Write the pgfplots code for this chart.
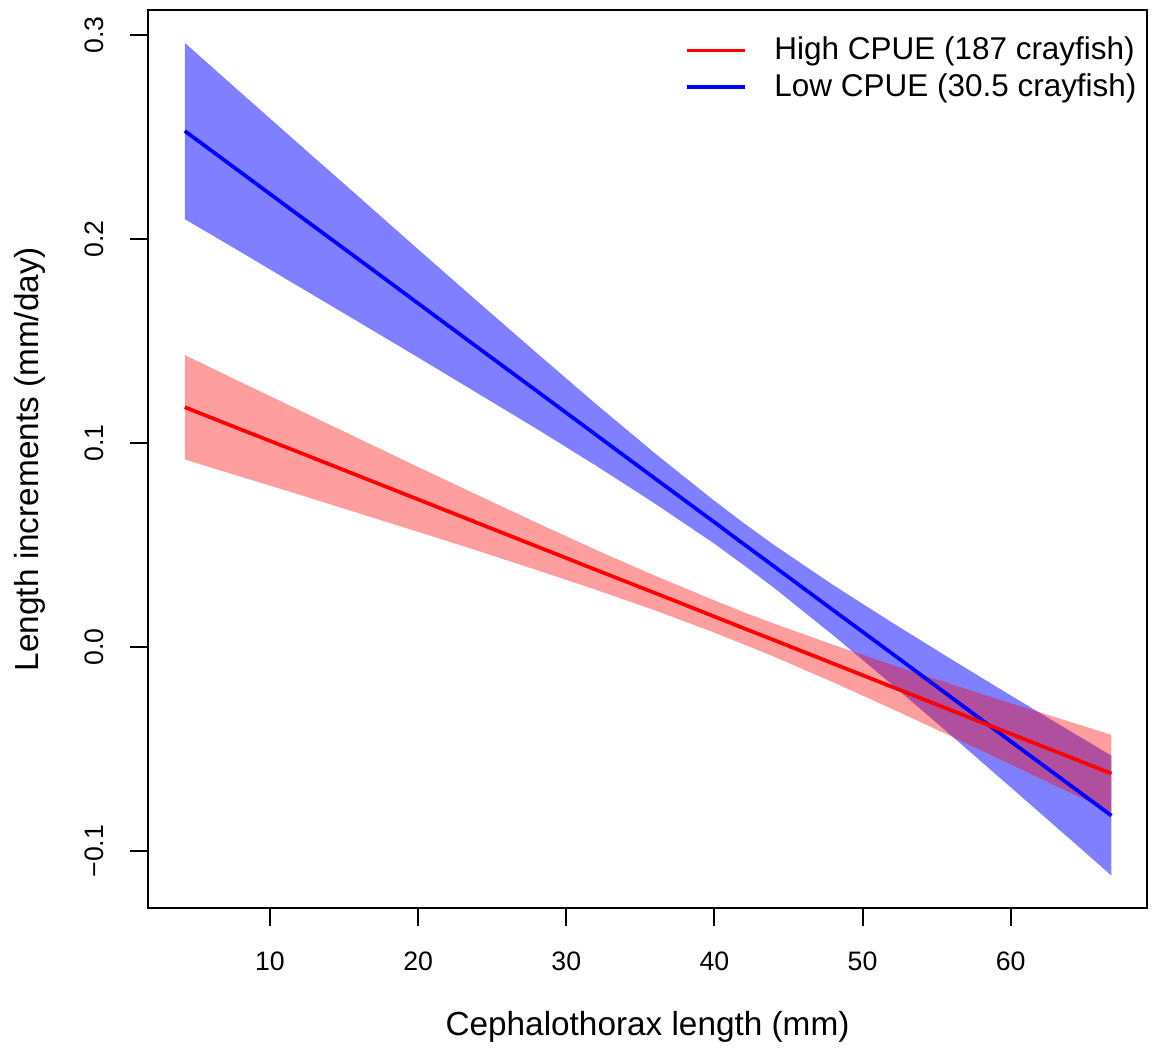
\documentclass[border=0pt]{standalone}
\usepackage{fontspec}
\setmainfont{Liberation Sans}
\usepackage{pgfplots}
\usepackage{pgfplotstable}
\pgfplotsset{compat=1.18}
\usepgfplotslibrary{fillbetween}

\pgfplotstableread{
x     bu      bc      bl      ru      rc      rl
4.25  0.2962  0.2530  0.2098  0.1432  0.1176  0.0920
8     0.2720  0.2329  0.1938  0.1300  0.1068  0.0836
12    0.2463  0.2114  0.1765  0.1161  0.0954  0.0747
16    0.2207  0.1900  0.1593  0.1022  0.0839  0.0656
20    0.1950  0.1685  0.1420  0.0883  0.0724  0.0565
24    0.1695  0.1470  0.1245  0.0746  0.0609  0.0473
28    0.1442  0.1256  0.1070  0.0610  0.0494  0.0378
32    0.1192  0.1041  0.0890  0.0477  0.0379  0.0281
36    0.0949  0.0826  0.0703  0.0350  0.0265  0.0180
40    0.0717  0.0612  0.0507  0.0229  0.0150  0.0071
42    0.0607  0.0504  0.0401  0.0171  0.0092  0.0013
44    0.0502  0.0397  0.0292  0.0116  0.0035  -0.0046
48    0.0305  0.0182  0.0059  0.0012  -0.0080 -0.0172
52    0.0120  -0.0032 -0.0184 -0.0087 -0.0195 -0.0303
56    -0.0060 -0.0247 -0.0434 -0.0182 -0.0310 -0.0438
60    -0.0237 -0.0462 -0.0687 -0.0275 -0.0425 -0.0575
64    -0.0411 -0.0676 -0.0941 -0.0366 -0.0539 -0.0713
66.8  -0.0532 -0.0826 -0.1120 -0.0430 -0.0620 -0.0810
}\data

\begin{document}
\begin{tikzpicture}
\begin{axis}[
  at={(0,0)}, anchor=south west,
  scale only axis, width=374.6pt, height=336.75pt,
  xmin=1.77, xmax=69.2, ymin=-0.1279, ymax=0.3123,
  xtick={10,20,30,40,50,60}, xticklabels={10,20,30,40,50,60},
  ytick={-0.1,0,0.1,0.2,0.3}, yticklabels={−0.1,0.0,0.1,0.2,0.3},
  tick align=outside, tick pos=left, major tick length=6.6pt,
  axis line style={line width=0.75pt},
  every tick/.style={black, line width=0.75pt},
  ticklabel style={font=\fontsize{10}{12}\selectfont},
  xticklabel shift=6.2pt, yticklabel shift=6.3pt,
  yticklabel style={rotate=90, anchor=south},
  xlabel={Cephalothorax length (mm)},
  ylabel={Length increments (mm/day)},
  label style={font=\fontsize{12.5}{15}\selectfont},
  xlabel style={at={(axis description cs:0.5,-0.1324)}, anchor=center},
  ylabel style={at={(axis description cs:-0.1181,0.5)}, anchor=center},
  legend style={at={(axis description cs:1,1)}, anchor=north east,
    xshift=-3.75pt, yshift=-10pt, draw=none, fill=none,
    inner xsep=0pt, inner ysep=0pt, nodes={inner sep=0pt},
    row sep=3.5pt, font=\fontsize{11.8}{14}\selectfont},
  legend cell align=left,
  legend image code/.code={\draw[#1] (0pt,0pt) -- (21.75pt,0pt); \path (32.25pt,0pt);},
]
\addlegendimage{red, line width=1.4pt}
\addlegendentry{High CPUE (187 crayfish)}
\addlegendimage{blue, line width=1.4pt}
\addlegendentry{Low CPUE (30.5 crayfish)}

\addplot[draw=none, name path=bu, forget plot] table[x=x, y=bu] {\data};
\addplot[draw=none, name path=bl, forget plot] table[x=x, y=bl] {\data};
\addplot[fill=blue, fill opacity=0.5, draw=none, forget plot] fill between[of=bu and bl];
\addplot[blue, line width=1.4pt, forget plot] table[x=x, y=bc] {\data};

\addplot[draw=none, name path=ru, forget plot] table[x=x, y=ru] {\data};
\addplot[draw=none, name path=rl, forget plot] table[x=x, y=rl] {\data};
\addplot[fill=red, fill opacity=0.38, draw=none, forget plot] fill between[of=ru and rl];
\addplot[red, line width=1.4pt, forget plot] table[x=x, y=rc] {\data};
\end{axis}
\pgfresetboundingbox
\useasboundingbox (-55.5pt,-52.9pt) rectangle (376.85pt,340.5pt);
\end{tikzpicture}
\end{document}
